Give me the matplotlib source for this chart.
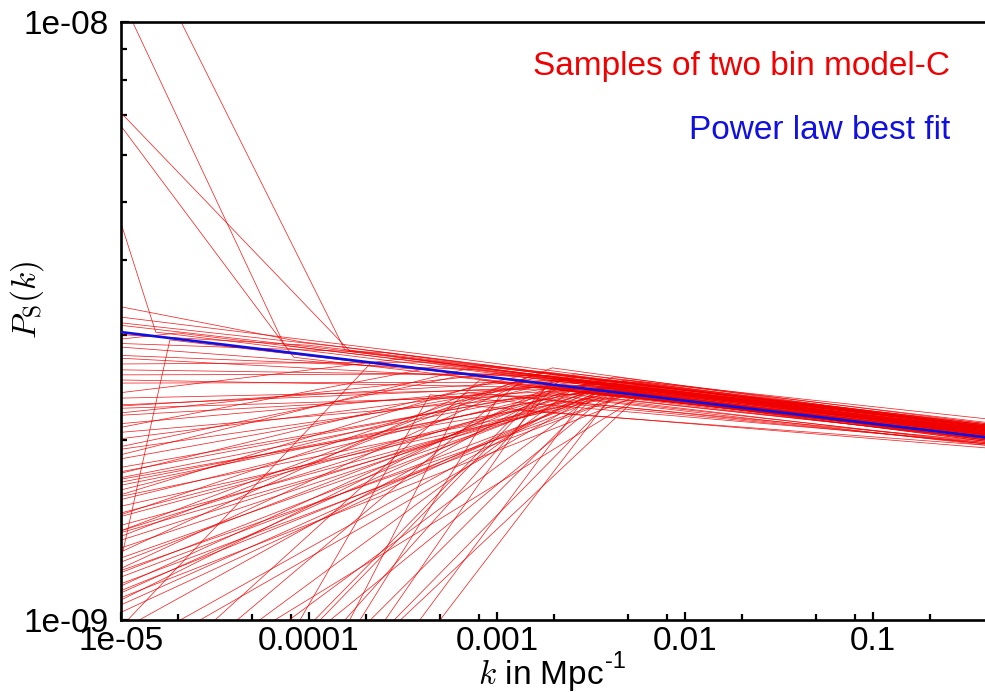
import matplotlib
matplotlib.use("Agg")
import matplotlib.pyplot as plt
from matplotlib.ticker import FixedLocator, FixedFormatter, LogLocator, NullFormatter

plt.rcParams['font.family'] = ['Liberation Sans', 'DejaVu Sans']
plt.rcParams['mathtext.fontset'] = 'cm'

# ---------------- data (P in units of 1e-9) ----------------
K_MIN = 1e-5
K_MAX = 0.4
SCALE = 1e-9

sample_p_start = [11.0, 15.9, 7.05, 6.70, 4.61, 3.34, 3.14, 3.21, 3.11, 2.90,
                  2.86, 2.77, 2.74, 2.62, 2.57, 2.49, 2.35, 2.29, 2.28, 2.26,
                  2.22, 2.20, 2.13, 2.06, 2.01, 1.93, 1.80, 1.77, 1.73, 1.70,
                  1.68, 1.65, 1.61, 1.59, 1.55, 1.51, 1.49, 1.41, 1.40, 1.36,
                  1.32, 1.27, 1.25, 1.21, 1.20, 1.18, 1.15, 1.12, 1.11, 1.09,
                  1.06, 1.03, 0.973, 0.962, 0.72, 0.686, 0.62, 0.303, 0.467, 0.52,
                  0.382, 0.228, 0.383, 0.229, 0.364, 0.213, 0.201, 1.26, 0.88, 0.84,
                  0.675, 0.696, 0.454, 0.179, 0.343, 1.41, 1.89, 1.62, 1.38, 1.30,
                  1.22, 1.50, 1.76, 1.95, 2.10, 1.86, 1.14, 1.08, 1.44, 1.72,
                  2.40, 2.68, 3.00, 2.95, 2.52]

sample_k_break = [7.4e-5, 1.55e-4, 1.66e-4, 8.3e-5, 1.53e-5, 9.0e-5, 1.5e-4, 6.0e-4, 1.2e-3, 2.5e-4,
                  3.0e-3, 8.0e-4, 4.0e-3, 2.0e-3, 1.5e-3, 3.5e-3, 4.5e-3, 3.0e-3, 2.2e-3, 5.0e-3,
                  1.0e-3, 3.8e-3, 2.8e-3, 4.2e-3, 3.2e-3, 2.5e-3, 3.0e-3, 4.0e-3, 2.0e-3, 5.5e-3,
                  3.5e-3, 2.6e-3, 4.5e-3, 3.2e-3, 6.0e-3, 3.8e-3, 2.4e-3, 4.2e-3, 5.0e-3, 3.0e-3,
                  4.8e-3, 3.6e-3, 2.8e-3, 5.2e-3, 4.0e-3, 3.3e-3, 6.5e-3, 4.4e-3, 3.1e-3, 5.8e-3,
                  3.9e-3, 4.6e-3, 2.16e-4, 2.16e-3, 8.1e-4, 1.32e-3, 3.53e-3, 4.4e-4, 1.32e-3, 4.5e-3,
                  2.16e-3, 1.04e-3, 3.13e-3, 1.8e-3, 5.77e-3, 2.76e-3, 3.99e-3, 1.82e-5, 3.13e-3, 3.99e-3,
                  2.44e-3, 6.5e-3, 2.04e-3, 6.35e-4, 4.5e-3, 1.97e-3, 8.4e-4, 9.0e-4, 1.2e-3, 7.0e-4,
                  1.6e-3, 1.8e-3, 1.4e-3, 6.0e-4, 5.0e-4, 2.3e-3, 2.0e-3, 2.6e-3, 5.5e-3, 6.2e-3,
                  3.3e-4, 4.5e-4, 1.0e-4, 2.0e-5, 6.5e-3]

sample_p_break = [2.88, 2.83, 2.81, 2.75, 3.03, 2.92, 2.86, 2.74, 2.62, 2.80,
                  2.50, 2.62, 2.48, 2.56, 2.58, 2.50, 2.45, 2.47, 2.52, 2.40,
                  2.58, 2.44, 2.49, 2.42, 2.52, 2.47, 2.46, 2.52, 2.40, 2.50,
                  2.44, 2.55, 2.38, 2.48, 2.42, 2.46, 2.36, 2.55, 2.45, 2.40,
                  2.52, 2.43, 2.47, 2.40, 2.49, 2.35, 2.46, 2.42, 2.50, 2.38,
                  2.45, 2.51, 2.70, 2.45, 2.52, 2.50, 2.42, 2.38, 2.24, 2.47,
                  2.52, 2.38, 2.33, 2.44, 2.38, 2.29, 2.35, 2.94, 2.42, 2.47,
                  2.41, 2.42, 2.54, 2.29, 2.42, 2.64, 2.67, 2.50, 2.47, 2.40,
                  2.55, 2.60, 2.57, 2.55, 2.66, 2.53, 2.44, 2.58, 2.47, 2.44,
                  2.74, 2.70, 2.88, 3.02, 2.43]

sample_p_end = [2.06, 2.04, 2.08, 2.02, 2.05, 2.10, 2.09, 2.10, 2.12, 2.07,
                2.11, 2.08, 2.12, 2.06, 2.10, 2.04, 2.06, 2.02, 2.08, 2.03,
                2.05, 2.07, 2.09, 2.00, 2.13, 2.04, 2.06, 2.10, 2.01, 2.12,
                2.04, 2.11, 2.03, 2.08, 2.09, 2.07, 1.98, 2.13, 2.05, 2.02,
                2.17, 2.06, 2.09, 2.04, 2.10, 1.97, 2.11, 2.05, 2.08, 2.03,
                2.07, 2.12, 2.00, 1.99, 2.02, 1.99, 2.00, 1.98, 1.96, 2.05,
                2.05, 1.97, 1.96, 2.02, 2.05, 1.97, 2.01, 2.04, 2.03, 2.06,
                2.00, 2.09, 2.08, 1.94, 2.04, 2.10, 2.10, 2.03, 2.04, 1.99,
                2.07, 2.11, 2.09, 2.02, 2.07, 2.10, 2.01, 2.14, 2.10, 2.10,
                2.07, 2.06, 2.11, 2.09, 2.11]

fit_k = [K_MIN, K_MAX]
fit_p = [3.03, 2.02]

x_tick_values = [1e-5, 1e-4, 1e-3, 1e-2, 1e-1]
x_tick_labels = ['1e-05', '0.0001', '0.001', '0.01', '0.1']
y_tick_values = [1e-9, 1e-8]
y_tick_labels = ['1e-09', '1e-08']

label_samples = 'Samples of two bin model-C'
label_fit = 'Power law best fit'
xlabel_main = r'$k$ in Mpc'
xlabel_sup = '-1'
ylabel_text = r'$P_{\mathrm{S}}(k)$'

# ---------------- figure ----------------
W, H = 985, 692
fig = plt.figure(figsize=(W / 100, H / 100), dpi=100)
ax = fig.add_axes([121 / W, 1 - 620 / H, (985 - 121) / W, (620 - 22) / H])

red = '#f00000'
blue = '#1010e0'

for p1, kb, pb, p2 in zip(sample_p_start, sample_k_break, sample_p_break, sample_p_end):
    ax.plot([K_MIN, kb, K_MAX], [p1 * SCALE, pb * SCALE, p2 * SCALE],
            color=red, lw=0.55, alpha=0.85, solid_joinstyle='miter')

ax.plot(fit_k, [p * SCALE for p in fit_p], color=blue, lw=1.9, zorder=5)

ax.set_xscale('log')
ax.set_yscale('log')
ax.set_xlim(1e-5, 0.3945)
ax.set_ylim(1e-9, 1e-8)

ax.xaxis.set_major_locator(FixedLocator(x_tick_values))
ax.xaxis.set_major_formatter(FixedFormatter(x_tick_labels))
ax.xaxis.set_minor_locator(LogLocator(base=10, subs=[2, 5, 8]))
ax.xaxis.set_minor_formatter(NullFormatter())
ax.yaxis.set_major_locator(FixedLocator(y_tick_values))
ax.yaxis.set_major_formatter(FixedFormatter(y_tick_labels))
ax.yaxis.set_minor_locator(LogLocator(base=10, subs=[2, 3, 4, 5, 6, 7, 8, 9]))
ax.yaxis.set_minor_formatter(NullFormatter())

ax.tick_params(axis='both', which='both', direction='in', top=False, right=False,
               labelsize=24, width=1.6, colors='black')
ax.tick_params(axis='both', which='major', length=6)
ax.tick_params(axis='both', which='minor', length=4)
ax.tick_params(axis='x', which='major', pad=4)
ax.tick_params(axis='y', which='major', pad=9)

for side in ['left', 'top', 'bottom']:
    ax.spines[side].set_linewidth(1.9)
ax.spines['right'].set_visible(False)

fig.text(950 / W, 1 - 75 / H, label_samples, color=red, fontsize=24,
         ha='right', va='baseline')
fig.text(950 / W, 1 - 139 / H, label_fit, color=blue, fontsize=24,
         ha='right', va='baseline')

xl = fig.text(478 / W, 1 - 684 / H, xlabel_main, fontsize=24,
              ha='left', va='baseline')
fig.canvas.draw()
bb = xl.get_window_extent(renderer=fig.canvas.get_renderer())
fig.text((bb.x1 + 1) / W, 1 - 668 / H, xlabel_sup, fontsize=17,
         ha='left', va='baseline')

fig.text(27 / W, 1 - 300 / H, ylabel_text, fontsize=24,
         rotation=90, ha='center', va='center')

fig.savefig('out.png', dpi=100)
